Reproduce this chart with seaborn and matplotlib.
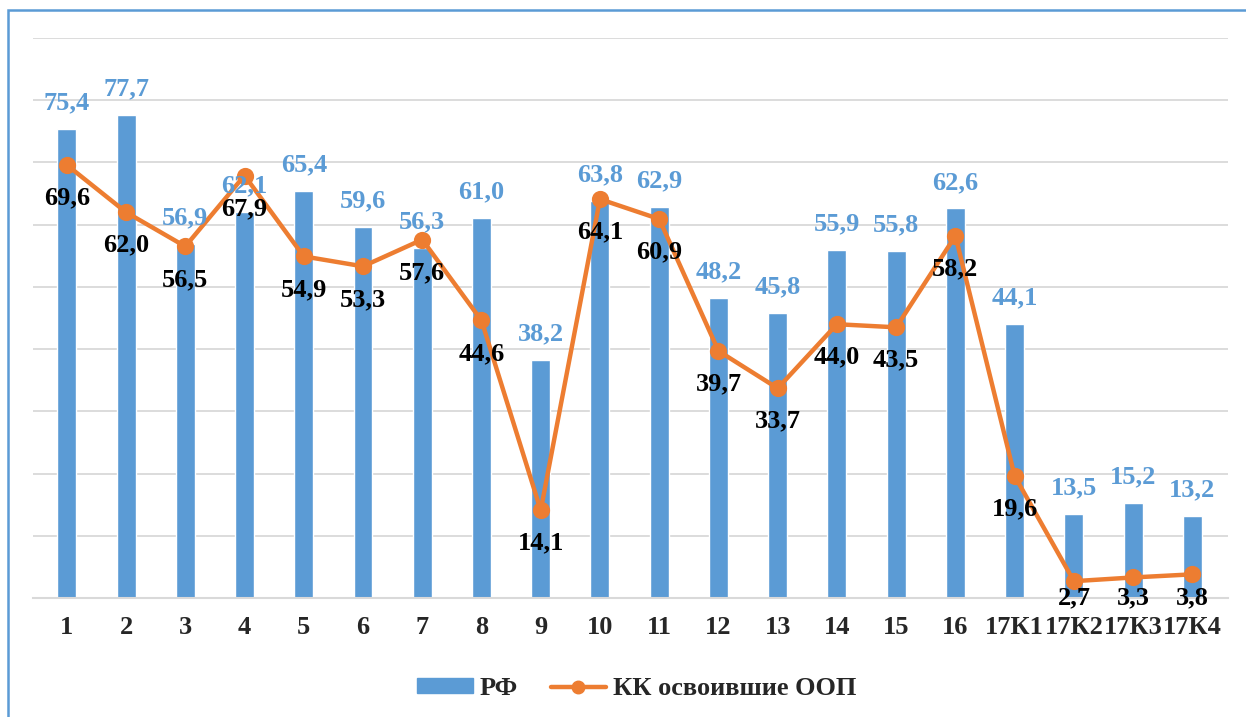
import matplotlib.pyplot as plt
import seaborn as sns
import pandas as pd
from matplotlib.patches import Rectangle, Patch
from matplotlib.lines import Line2D

# Data
groups = ['1', '2', '3', '4', '5', '6', '7', '8', '9', '10', '11', '12', '13',
          '14', '15', '16', '17К1', '17К2', '17К3', '17К4']
rf = [75.4, 77.7, 56.9, 62.1, 65.4, 59.6, 56.3, 61.0, 38.2, 63.8, 62.9, 48.2,
      45.8, 55.9, 55.8, 62.6, 44.1, 13.5, 15.2, 13.2]
kk = [69.6, 62.0, 56.5, 67.9, 54.9, 53.3, 57.6, 44.6, 14.1, 64.1, 60.9, 39.7,
      33.7, 44.0, 43.5, 58.2, 19.6, 2.7, 3.3, 3.8]

blue = '#5B9BD5'
orange = '#ED7D31'
fs = 19

df = pd.DataFrame({'group': groups, 'rf': rf, 'kk': kk})

sns.set_style('white')
plt.rcParams['font.family'] = ['Liberation Serif', 'DejaVu Serif']
plt.rcParams['font.weight'] = 'bold'

fig = plt.figure(figsize=(12.46, 7.17), dpi=100)
ax = fig.add_axes([0.0265, 0.166, 0.959, 0.781])

sns.barplot(data=df, x='group', y='rf', color=blue, width=0.32,
            saturation=1, ax=ax, zorder=2)
sns.pointplot(data=df, x='group', y='kk', color=orange, markers='o',
              markersize=10, linewidth=3.2, ax=ax, zorder=3)

# value labels
for i, v in enumerate(rf):
    ax.text(i, v + 4.2, f'{v:.1f}'.replace('.', ','), ha='center', va='center',
            color=blue, fontsize=fs, fontweight='bold', zorder=4)
for i, v in enumerate(kk):
    # labels below the point, but kept inside the plot area
    ax.text(i, max(v - 5.3, 0.0), f'{v:.1f}'.replace('.', ','), ha='center',
            va='center', color='black', fontsize=fs, fontweight='bold', zorder=4)

ax.set_ylim(0, 90)
ax.set_xlim(-0.57, 19.6)
ax.set_yticks(range(0, 91, 10))
ax.set_yticklabels([])
ax.yaxis.grid(True, color='#D9D9D9', linewidth=1.3, zorder=0)
ax.set_axisbelow(True)
ax.tick_params(axis='x', length=0, pad=13, labelsize=fs)
ax.tick_params(axis='y', length=0)
for lbl in ax.get_xticklabels():
    lbl.set_fontweight('bold')
ax.set_xlabel('')
ax.set_ylabel('')
for s in ['top', 'right', 'left']:
    ax.spines[s].set_visible(False)
ax.spines['bottom'].set_color('#D9D9D9')
ax.spines['bottom'].set_linewidth(1.5)

# legend
handles = [Patch(facecolor=blue, edgecolor=blue),
           Line2D([0], [0], color=orange, lw=3.2, marker='o', markersize=9)]
fig.legend(handles, ['РФ', 'КК освоившие ООП'], loc='center',
           bbox_to_anchor=(0.511, 0.04), ncol=2, frameon=False,
           prop={'family': 'Liberation Serif', 'weight': 'bold', 'size': fs},
           handlelength=2.1, handleheight=0.45, columnspacing=1.25, handletextpad=0.25)

# outer frame
fig.patches.append(Rectangle((8 / 1246, -0.1), 1.2, 1.1 - 10 / 717,
                             transform=fig.transFigure, fill=False,
                             edgecolor=blue, linewidth=1.8))

fig.savefig('out.png', dpi=100)
